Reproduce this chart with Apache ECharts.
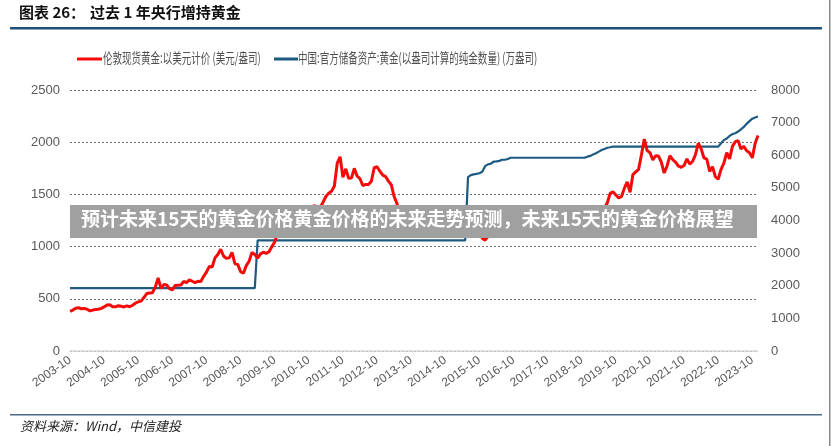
<!DOCTYPE html>
<html>
<head>
<meta charset="utf-8">
<script src="https://cdn.jsdelivr.net/npm/echarts@6/dist/echarts.min.js"></script>
<style>html,body{margin:0;padding:0;background:#fff;}#c{width:832px;height:446px;}</style>
</head>
<body>
<div id="c"></div>
<script>
// Months 2003-10 .. 2023-12
const startYear = 2003, startMonth = 10, monthCount = 243;
const months = [];
for (let i = 0; i < monthCount; i++) {
  const m = startMonth - 1 + i;
  const y = startYear + Math.floor(m / 12);
  const mm = (m % 12) + 1;
  months.push(y + '-' + (mm < 10 ? '0' + mm : mm));
}

// London spot gold, USD/oz (monthly)
const goldPrice = [
  // 2003 Oct-Dec
  380, 392, 410,
  // 2004
  414, 405, 408, 400, 384, 392, 398, 400, 408, 422, 440, 442,
  // 2005
  424, 423, 434, 429, 422, 432, 424, 438, 458, 470, 478, 512,
  // 2006
  550, 556, 558, 612, 700, 600, 636, 632, 598, 586, 628, 630,
  // 2007
  632, 666, 655, 682, 668, 655, 668, 665, 715, 756, 810, 805,
  // 2008
  892, 925, 975, 910, 888, 892, 945, 836, 830, 760, 745, 818,
  // 2009
  860, 945, 924, 890, 930, 946, 934, 950, 998, 1045, 1130, 1140,
  // 2010
  1118, 1095, 1113, 1150, 1210, 1238, 1195, 1218, 1275, 1345, 1372, 1395,
  // 2011
  1360, 1374, 1425, 1480, 1512, 1530, 1580, 1800, 1860, 1665, 1745, 1655,
  // 2012
  1656, 1750, 1674, 1650, 1585, 1596, 1594, 1626, 1755, 1765, 1722, 1684,
  // 2013
  1671, 1627, 1593, 1480, 1414, 1300, 1286, 1370, 1349, 1316, 1275, 1225,
  // 2014
  1244, 1300, 1345, 1299, 1287, 1285, 1315, 1296, 1239, 1222, 1176, 1201,
  // 2015
  1260, 1227, 1179, 1198, 1199, 1181, 1110, 1117, 1125, 1165, 1080, 1062,
  // 2016
  1097, 1210, 1246, 1250, 1260, 1290, 1350, 1341, 1326, 1267, 1236, 1140,
  // 2017
  1192, 1234, 1231, 1270, 1246, 1260, 1236, 1283, 1330, 1280, 1283, 1255,
  // 2018
  1335, 1331, 1325, 1340, 1304, 1281, 1238, 1195, 1198, 1215, 1220, 1250,
  // 2019
  1291, 1330, 1300, 1280, 1284, 1370, 1420, 1510, 1525, 1495, 1465, 1480,
  // 2020
  1560, 1620, 1520, 1690, 1715, 1740, 1880, 2030, 1920, 1900, 1830, 1870,
  // 2021
  1867, 1808, 1705, 1770, 1870, 1834, 1810, 1770, 1760, 1777, 1840, 1790,
  // 2022
  1817, 1880, 1990, 1937, 1849, 1837, 1720, 1765, 1670, 1645, 1740, 1800,
  // 2023
  1900, 1840, 1960, 2005, 2015, 1935, 1960, 1918, 1900, 1850, 1990, 2065
];

// China official gold reserves, 10k oz
const chinaReserves = [];
const reserveSegments = [
  [1929, 66],          // 2003-10 .. 2009-03
  [3389, 74]           // 2009-04 .. 2015-05
];
reserveSegments.forEach(s => { for (let i = 0; i < s[1]; i++) chinaReserves.push(s[0]); });
const reserves2015to2016 = [5331, 5393, 5412, 5427, 5447, 5493, 5666,
  5719, 5739, 5802, 5813, 5827, 5862, 5862, 5886, 5924];
reserves2015to2016.forEach(v => chinaReserves.push(v));
for (let i = 0; i < 26; i++) chinaReserves.push(5924);   // 2016-10 .. 2018-11
const reserves2019 = [5956, 5980, 6026, 6062, 6110, 6161, 6194, 6231, 6245, 6264];
reserves2019.forEach(v => chinaReserves.push(v));
for (let i = 0; i < 37; i++) chinaReserves.push(6264);   // 2019-10 .. 2022-10
const reserves2023 = [6367, 6464, 6512, 6592, 6650, 6676, 6727, 6795, 6869, 6962, 7046, 7120, 7158, 7187];
reserves2023.forEach(v => chinaReserves.push(v));

const leftTicks = [0, 500, 1000, 1500, 2000, 2500];
const rightTicks = [0, 1000, 2000, 3000, 4000, 5000, 6000, 7000, 8000];

const seriesNames = ['伦敦现货黄金:以美元计价 (美元/盎司)', '中国:官方储备资产:黄金(以盎司计算的纯金数量) (万盎司)'];
const seriesColors = ['#f50a0a', '#1c5a80'];

const FONT = '"Liberation Sans", "Noto Sans CJK SC", sans-serif';

const chart = echarts.init(document.getElementById('c'), null, {renderer: 'canvas'});
chart.setOption({
  animation: false,
  backgroundColor: '#fff',
  textStyle: {fontFamily: FONT},
  grid: {left: 70, right: 74, top: 90, bottom: 95},
  legend: {show: false, data: seriesNames},
  xAxis: {
    type: 'category', data: months, boundaryGap: false,
    axisLine: {lineStyle: {color: '#d9d9d9', width: 1.5}},
    axisTick: {show: false},
    axisLabel: {interval: 11, rotate: 35, fontSize: 12, color: '#595959', margin: 8, fontFamily: FONT},
    splitLine: {show: false}
  },
  yAxis: [{
    type: 'value', min: leftTicks[0], max: leftTicks[leftTicks.length - 1], interval: 500,
    axisLine: {show: false}, axisTick: {show: false},
    axisLabel: {fontSize: 13, color: '#595959', margin: 10, fontFamily: FONT, formatter: v => String(v)},
    splitLine: {lineStyle: {color: '#6f6f6f', type: [2, 2], width: 1}}
  }, {
    type: 'value', min: rightTicks[0], max: rightTicks[rightTicks.length - 1], interval: 1000,
    position: 'right',
    axisLine: {show: false}, axisTick: {show: false},
    axisLabel: {fontSize: 13, color: '#595959', margin: 13, fontFamily: FONT, formatter: v => String(v)},
    splitLine: {show: false}
  }],
  series: [{
    name: seriesNames[0], type: 'line', data: goldPrice, yAxisIndex: 0,
    showSymbol: false, symbol: 'none',
    lineStyle: {color: seriesColors[0], width: 3}, itemStyle: {color: seriesColors[0]}, z: 3
  }, {
    name: seriesNames[1], type: 'line', data: chinaReserves, yAxisIndex: 1,
    showSymbol: false, symbol: 'none',
    lineStyle: {color: seriesColors[1], width: 2.2}, itemStyle: {color: seriesColors[1]}, z: 2
  }],
  graphic: [
    // legend (condensed text like the original)
    {type: 'rect', z: 100, shape: {x: 77, y: 57.5, width: 25, height: 3}, style: {fill: seriesColors[0]}},
    {type: 'text', x: 103, y: 50.5, scaleX: 0.68, z: 100, style: {text: seriesNames[0], font: '14px "Noto Sans CJK SC"', fill: '#505050'}},
    {type: 'rect', z: 100, shape: {x: 274, y: 57.5, width: 24, height: 3}, style: {fill: seriesColors[1]}},
    {type: 'text', x: 298, y: 50.5, scaleX: 0.68, z: 100, style: {text: seriesNames[1], font: '14px "Noto Sans CJK SC"', fill: '#505050'}},
    // header / footer
    {type: 'text', left: 19, top: 5, z: 100, style: {text: '图表 26：', font: 'bold 15px "Noto Sans CJK SC"', fill: '#111'}},
    {type: 'text', left: 90, top: 5, z: 100, style: {text: '过去 1 年央行增持黄金', font: 'bold 15px "Noto Sans CJK SC"', fill: '#111'}},
    {type: 'rect', z: 100, shape: {x: 10, y: 27, width: 812, height: 2.5}, style: {fill: '#1f4e79'}},
    {type: 'rect', z: 100, shape: {x: 10, y: 414, width: 812, height: 1.5}, style: {fill: '#4a6a8a'}},
    {type: 'text', left: 20, top: 420, z: 100, style: {text: '资料来源：Wind，中信建投', font: 'italic 13px "Noto Sans CJK SC"', fill: '#222'}},
    // overlay banner
    {type: 'rect', z: 100, shape: {x: 70, y: 205, width: 687, height: 33}, style: {fill: '#a0a0a0'}},
    {type: 'text', left: 81, top: 209, z: 101, style: {text: '预计未来15天的黄金价格黄金价格的未来走势预测，未来15天的黄金价格展望', font: 'bold 19px "Noto Sans CJK SC"', fill: '#fff'}},
    {type: 'rect', z: 100, shape: {x: 829, y: 0, width: 1.5, height: 446}, style: {fill: '#888'}}
  ]
});
</script>
</body>
</html>
